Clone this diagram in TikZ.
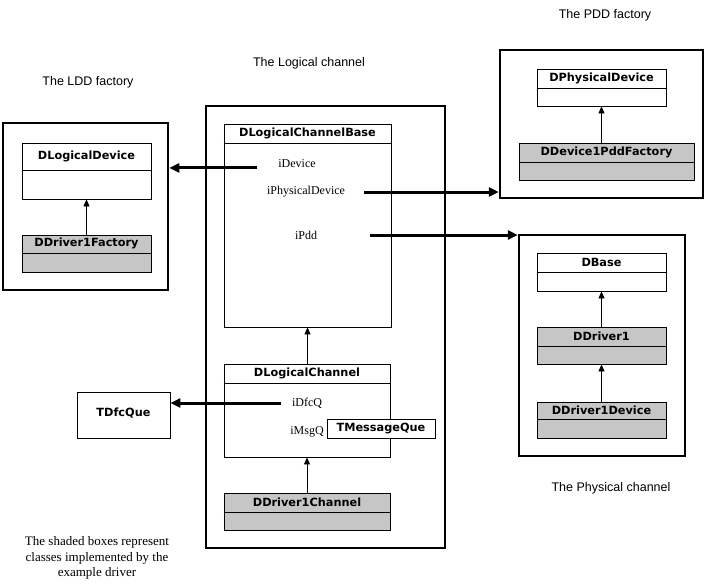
\documentclass[tikz,border=0pt]{standalone}
\usepackage{fontspec}
\setmainfont{Liberation Serif}
\setsansfont{Liberation Sans}
\newfontfamily\clsfont{DejaVu Sans}
\usetikzlibrary{arrows.meta,fit,calc}

\definecolor{clsgray}{RGB}{198,198,198}

% one class: name, extra style, top left, bottom right, header line y, title
\newcommand{\umlclass}[6]{%
  \node[classbox, #2, fit={#3 #4}] (#1) {};
  \draw[thin line] (#1.west |- 0,#5) -- (#1.east |- 0,#5);
  \node[classname] (#1-name) at ($(#1.north)!.5!(#1.north |- 0,#5)$) {#6};
}

\begin{document}
\begin{tikzpicture}
  [
    x                       = 1pt,
    y                       = -1pt,
    frame/.style            = {draw, line width=2.5pt, inner sep=0pt},
    classbox/.style         = {draw, line width=0.8pt, inner sep=0pt, fill=white},
    thin line/.style        = {line width=0.8pt},
    shaded/.style           = {fill=clsgray},
    classname/.style        = {font=\clsfont\bfseries\fontsize{11.3}{13}\selectfont, inner sep=0pt},
    member/.style           = {font=\fontsize{12}{14}\selectfont, inner sep=1pt},
    note/.style             = {font=\fontsize{13}{15.5}\selectfont, align=center},
    caption/.style          = {font=\sffamily\fontsize{12.5}{15}\selectfont},
    ref/.style              = {line width=3pt, -{Triangle[length=10pt,width=9pt]}},
    inherit/.style          = {line width=0.8pt, -{Triangle[length=7pt,width=6pt]}}
  ]
  \useasboundingbox (0,0) rectangle (708,587);

  % group frames
  \node[frame, fit={(3,123) (168,290)}]   (ldd)   {};
  \node[frame, fit={(206,106) (445,548)}] (lchan) {};
  \node[frame, fit={(500,50) (703,198)}]  (pdd)   {};
  \node[frame, fit={(519,235) (685,456)}] (phys)  {};

  \node[caption] (ldd-cap)   at (88,82)  {The LDD factory};
  \node[caption] (lchan-cap) at (309,63) {The Logical channel};
  \node[caption] (pdd-cap)   at (605,15) {The PDD factory};
  \node[caption] (phys-cap)  at (611,488) {The Physical channel};

  % the LDD factory
  \umlclass{ldev}{}{(22,143)}{(151,199)}{170}{DLogicalDevice}
  \umlclass{lfac}{shaded}{(22,235)}{(151,272)}{253}{DDriver1Factory}
  \draw[inherit] (lfac) -- (ldev);

  % the logical channel
  \umlclass{chbase}{}{(224,124)}{(391,327)}{143}{DLogicalChannelBase}
  \umlclass{chan}{}{(224,364)}{(390,457)}{383}{DLogicalChannel}
  \umlclass{drvch}{shaded}{(224,493)}{(390,530)}{512}{DDriver1Channel}
  \draw[inherit] (chan.north -| chbase.south) -- (chbase.south);
  \draw[inherit] (drvch.north -| chan.south) -- (chan.south);

  \node[member] (idev)  at (297,164) {iDevice};
  \node[member] (iphys) at (306,192) {iPhysicalDevice};
  \node[member] (ipdd)  at (306,235) {iPdd};
  \node[member] (idfc)  at (307,403) {iDfcQ};
  \node[member] (imsg)  at (307,432) {iMsgQ};

  % the PDD factory
  \umlclass{pdev}{}{(537,69)}{(666,106)}{88}{DPhysicalDevice}
  \umlclass{pfac}{shaded}{(519,143)}{(694,180)}{162}{DDevice1PddFactory}
  \draw[inherit] (pdev.south |- pfac.north) -- (pdev.south);

  % the physical channel
  \umlclass{dbase}{}{(537,253)}{(666,291)}{272}{DBase}
  \umlclass{drv}{shaded}{(537,327)}{(666,364)}{346}{DDriver1}
  \umlclass{drvdev}{shaded}{(537,402)}{(666,438)}{419}{DDriver1Device}
  \draw[inherit] (drv.north -| dbase.south) -- (dbase.south);
  \draw[inherit] (drvdev.north -| drv.south) -- (drv.south);

  % other objects
  \node[classbox, fit={(77,392) (170,438)}] (tdfc) {};
  \node[classname] (tdfc-name) at ($(tdfc.center)+(0,-2)$) {TDfcQue};

  % pointers
  \draw[ref] ([xshift=-20pt]idev.base west) -- (idev.base west -| ldd.east);
  \draw[ref] ([xshift=18pt]iphys.east) -- (iphys.east -| pdd.west);
  \draw[ref] ([xshift=52pt]ipdd.east) -- (ipdd.east -| phys.west);
  \draw[ref] ([xshift=-10pt]idfc.west) -- (idfc.west -| tdfc.east);

  \node[classbox, fit={(327,419) (435,438)}] (tmsg) {};
  \node[classname] (tmsg-name) at (tmsg.center) {TMessageQue};

  \node[note] (notes) at (97,558)
    {The shaded boxes represent\\classes implemented by the\\example driver};
\end{tikzpicture}
\end{document}
